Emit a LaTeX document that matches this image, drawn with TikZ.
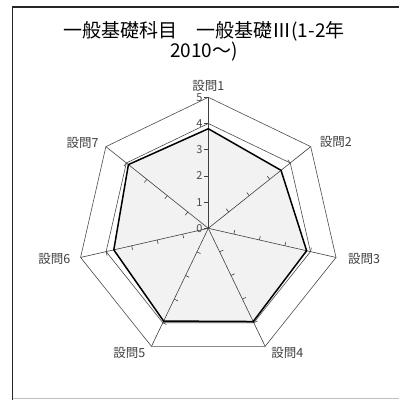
\documentclass[tikz,border=0pt]{standalone}
\usepackage{fontspec}
\setmainfont{Noto Sans CJK JP}
\usetikzlibrary{positioning,calc}

\begin{document}
\begin{tikzpicture}
[x=1pt,y=1pt,
grid/.style = {draw=black!70, line width=0.6pt},
spoke/.style = {draw=black!75, line width=0.6pt},
score/.style = {draw=black, line width=1.5pt, line join=miter},
qlabel/.style = {font=\fontsize{12.5}{12.5}\selectfont, text=black!75, inner sep=1pt},
num/.style = {font=\fontsize{11}{11}\selectfont, text=black!70, inner sep=1pt, anchor=east},]
\useasboundingbox (0,0) rectangle (399,400);
\fill[white] (0,0) rectangle (399,400);
\draw[black!85, line width=1.5pt] (12.5,0) -- (12.5,393) -- (399,393);
\draw[black!25, line width=1pt] (12.5,1) -- (399,1);
\node (title) at (204,359) [align=center, inner sep=0pt, font=\fontsize{19}{20}\selectfont] {一般基礎科目　一般基礎Ⅲ(1-2年\\2010～)};
\coordinate (O) at (208.3,171.7);
\foreach \i in {1,...,7} {
  \coordinate (a\i) at ($(O)+({90-(\i-1)*360/7}:131)$);
  \coordinate (b\i) at ($(O)+({90-(\i-1)*360/7}:104.8)$);
}
\foreach \i/\v in {1/3.8,2/3.55,3/3.85,4/3.95,5/3.93,6/3.7,7/3.9}
  \coordinate (d\i) at ($(O)+({90-(\i-1)*360/7}:\v*26.2)$);
% score area
\fill[black!5] (d1)--(d2)--(d3)--(d4)--(d5)--(d6)--(d7)--cycle;
% grid lines 4 and 5
\draw[grid] (a1)--(a2)--(a3)--(a4)--(a5)--(a6)--(a7)--cycle;
\draw[grid] (b1)--(b2)--(b3)--(b4)--(b5)--(b6)--(b7)--cycle;
\foreach \i in {1,...,7} {
  \draw[spoke] (O) -- (a\i);
  \foreach \k in {1,...,4}
    \draw[spoke] ($(O)+({90-(\i-1)*360/7}:\k*26.2)$) -- ++({180-(\i-1)*360/7}:4);
}
\draw[spoke] (a1) -- ++(-4,0);
\draw[spoke] (O) -- ++(-4,0);
\draw[score] (d1)--(d2)--(d3)--(d4)--(d5)--(d6)--(d7)--cycle;
% scale
\foreach \k in {0,...,5}
  \node[num] (n\k) at ($(O)+(-4.5,\k*26.2)$) {\k};
% question labels
\node[qlabel, above=5pt of a1] (q1) {設問1};
\node[qlabel, right=8pt of a2, yshift=5pt] (q2) {設問2};
\node[qlabel, right=11pt of a3, yshift=-2pt] (q3) {設問3};
\node[qlabel, below right=0pt and 5pt of a4] (q4) {設問4};
\node[qlabel, below left=0pt and 5pt of a5] (q5) {設問5};
\node[qlabel, left=9pt of a6, yshift=-2pt] (q6) {設問6};
\node[qlabel, left=6pt of a7, yshift=4pt] (q7) {設問7};
\end{tikzpicture}
\end{document}
